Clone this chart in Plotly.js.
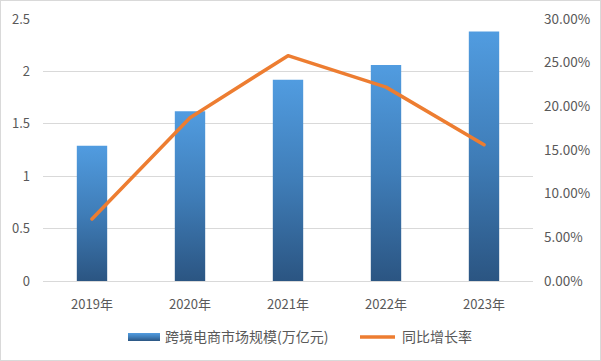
<!DOCTYPE html>
<html><head><meta charset="utf-8">
<script src="https://cdn.plot.ly/plotly-3.0.1.min.js"></script>
<style>
html,body{margin:0;padding:0;background:#fff;}
#frame{position:absolute;left:0;top:0;width:599px;height:359px;border:1px solid #D9D9D9;}
#chart{position:absolute;left:0;top:0;width:601px;height:361px;}
</style></head>
<body><div id="frame"></div><div id="chart"></div>
<script>
const categories = ['2019年','2020年','2021年','2022年','2023年'];
const marketSize = [1.29, 1.62, 1.92, 2.06, 2.38];
const growthRate = [0.071, 0.187, 0.258, 0.222, 0.156];
const leftTicks = [0, 0.5, 1, 1.5, 2, 2.5];
const leftTickText = ['0','0.5','1','1.5','2','2.5'];
const rightTicks = [0, 0.05, 0.10, 0.15, 0.20, 0.25, 0.30];
const rightTickText = ['0.00%','5.00%','10.00%','15.00%','20.00%','25.00%','30.00%'];

const font = '"Noto Sans CJK SC", "Noto Sans", sans-serif';
const traces = [
  {type:'bar', x:categories, y:marketSize, name:'跨境电商市场规模(万亿元)',
   marker:{color:'#4A8BCB'}, width:0.31, hoverinfo:'skip'},
  {type:'scatter', mode:'lines', x:categories, y:growthRate, yaxis:'y2', name:'同比增长率',
   line:{color:'#ED7D31', width:3.5, shape:'linear'}, hoverinfo:'skip'}
];
const layout = {
  width:601, height:361,
  margin:{l:43, r:68, t:19, b:79},
  paper_bgcolor:'rgba(0,0,0,0)', plot_bgcolor:'rgba(0,0,0,0)',
  font:{family:font, size:12, color:'#595959'},
  showlegend:true,
  legend:{orientation:'h', x:0.5, xanchor:'center', y:-0.2, yanchor:'middle',
          font:{size:14, color:'#595959'}, itemwidth:34, tracegroupgap:0},
  xaxis:{type:'category', showgrid:false, showline:true, linecolor:'#D9D9D9', linewidth:1,
         ticks:'', tickfont:{size:13, color:'#595959'}, ticklabelstandoff:11, fixedrange:true},
  yaxis:{range:[0,2.5], tickvals:leftTicks, ticktext:leftTickText, showgrid:true,
         gridcolor:'#D9D9D9', zeroline:false, showline:false, ticks:'',
         tickfont:{size:13, color:'#595959'}, ticklabelstandoff:12, fixedrange:true},
  yaxis2:{overlaying:'y', side:'right', range:[0,0.30], tickvals:rightTicks, ticktext:rightTickText,
          showgrid:false, zeroline:false, showline:false, ticks:'',
          tickfont:{size:13.5, color:'#595959'}, ticklabelstandoff:10, fixedrange:true},
  bargap:0.69
};
Plotly.newPlot('chart', traces, layout, {displayModeBar:false, staticPlot:true}).then(function(gd){
  const svg = gd.querySelector('svg.main-svg');
  const ns = 'http://www.w3.org/2000/svg';
  let defs = svg.querySelector('defs');
  if(!defs){defs = document.createElementNS(ns,'defs'); svg.insertBefore(defs, svg.firstChild);}
  const lg = document.createElementNS(ns,'linearGradient');
  lg.setAttribute('id','barGrad');
  lg.setAttribute('x1','0'); lg.setAttribute('y1','0'); lg.setAttribute('x2','0'); lg.setAttribute('y2','1');
  [['0','#519CE0'],['0.5','#3F7DB8'],['1','#2B5582']].forEach(function(s){
    const st = document.createElementNS(ns,'stop');
    st.setAttribute('offset', s[0]); st.setAttribute('stop-color', s[1]);
    lg.appendChild(st);
  });
  defs.appendChild(lg);
  gd.querySelectorAll('.bars path').forEach(function(p){ p.style.fill = 'url(#barGrad)'; });
  gd.querySelectorAll('.scatterlayer .js-line').forEach(function(p){
    p.style.strokeLinejoin = 'round'; p.style.strokeLinecap = 'round';
  });
  // legend layout tweaks
  const leg = gd.querySelector('g.legend');
  leg.querySelectorAll('[clip-path]').forEach(function(e){ e.removeAttribute('clip-path'); });
  const re = /translate\(\s*([-\d.]+)[ ,]+([-\d.]+)\s*\)/;
  const lm = re.exec(leg.getAttribute('transform'));
  const lx = +lm[1], ly = +lm[2];
  const bbox = leg.getBBox();
  // center the legend row on y = 337
  const row = leg.querySelector('g.traces');
  leg.setAttribute('transform', 'translate(' + lx + ',' + ly + ')');
  const targets = [121, 358];
  leg.querySelectorAll('g.traces').forEach(function(it, i){
    const t = re.exec(it.getAttribute('transform') || 'translate(0,0)');
    it.setAttribute('transform', 'translate(' + (targets[i] - lx) + ',' + (t ? t[2] : 0) + ')');
    it.querySelectorAll('.legendpoints path').forEach(function(p){
      p.setAttribute('d', 'M17,4H-15V-4H17Z');
      p.style.fill = 'url(#barGrad)';
      p.style.stroke = 'none';
    });
    it.querySelectorAll('.legendlines path').forEach(function(p){
      p.setAttribute('d', 'M2,0h35');
    });
  });
  const sw = leg.querySelector('.legendlines path');
  if (sw) {
    const r = sw.getBoundingClientRect();
    const cy = r.top + r.height / 2;
    leg.setAttribute('transform', 'translate(' + lx + ',' + (ly + (337 - cy)) + ')');
  }
});
</script></body></html>
